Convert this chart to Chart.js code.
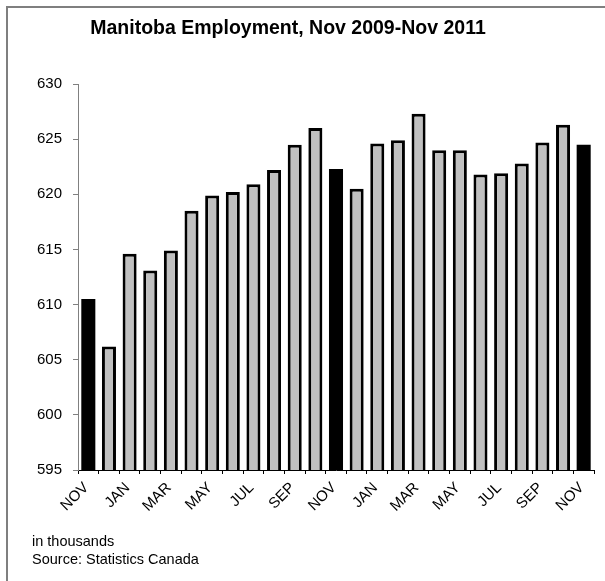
<!DOCTYPE html>
<html>
<head>
<meta charset="utf-8">
<script src="https://cdn.jsdelivr.net/npm/chart.js@4"></script>
<style>
  body { margin: 0; background: #fff; }
  canvas { display: block; }
</style>
</head>
<body>
<canvas id="chart" width="605" height="581"></canvas>
<script>
// Monthly employment, Nov 2009 to Nov 2011 (thousands)
const months = [
  "NOV", "DEC", "JAN", "FEB", "MAR", "APR", "MAY", "JUN", "JUL", "AUG", "SEP", "OCT",
  "NOV", "DEC", "JAN", "FEB", "MAR", "APR", "MAY", "JUN", "JUL", "AUG", "SEP", "OCT",
  "NOV"
];
const employment = [
  610.5, 606.2, 614.6, 613.1, 614.9, 618.5, 619.9, 620.2, 620.9, 622.2, 624.5, 626.0,
  622.3, 620.5, 624.6, 624.9, 627.3, 624.0, 624.0, 621.8, 621.9, 622.8, 624.7, 626.3,
  624.5
];
const yTicks = [595, 600, 605, 610, 615, 620, 625, 630];

const title = "Manitoba Employment, Nov 2009-Nov 2011";
const notes = ["in thousands", "Source: Statistics Canada"];

const FONT = "'Liberation Sans', Arial, sans-serif";

// November bars are solid black, the rest gray with a black outline
const isNov = months.map(m => m === "NOV");
const fills = isNov.map(n => (n ? "#000000" : "#c0c0c0"));
const borders = isNov.map(n => (n ? 0 : 3));

const frameAndText = {
  id: "frameAndText",
  afterDraw(chart) {
    const ctx = chart.ctx;
    ctx.save();
    // frame (top and left only)
    ctx.strokeStyle = "#7f7f7f";
    ctx.lineWidth = 2;
    ctx.beginPath();
    ctx.moveTo(7, 581);
    ctx.lineTo(7, 7);
    ctx.lineTo(605, 7);
    ctx.stroke();

    ctx.fillStyle = "#000";
    ctx.font = "bold 19.5px " + FONT;
    ctx.textAlign = "center";
    ctx.textBaseline = "middle";
    ctx.fillText(title, 288, 29);

    ctx.font = "14.5px " + FONT;
    ctx.textAlign = "left";
    ctx.textBaseline = "alphabetic";
    ctx.fillText(notes[0], 32, 546);
    ctx.fillText(notes[1], 32, 564);
    ctx.restore();
  }
};

new Chart(document.getElementById("chart"), {
  type: "bar",
  data: {
    labels: months,
    datasets: [{
      data: employment,
      backgroundColor: fills,
      borderColor: "#000",
      borderWidth: borders,
      barPercentage: 0.68,
      categoryPercentage: 1.0
    }]
  },
  options: {
    responsive: false,
    animation: false,
    layout: { padding: { top: 84, right: 11, bottom: 0, left: 0 } },
    plugins: {
      legend: { display: false },
      tooltip: { enabled: false }
    },
    scales: {
      x: {
        afterFit: s => { s.height = 111; },
        border: { color: "#000", width: 1 },
        grid: { offset: true, drawOnChartArea: false, color: "#000", tickLength: 4 },
        ticks: {
          autoSkip: false,
          maxRotation: 45,
          minRotation: 45,
          padding: 5,
          labelOffset: -2,
          color: "#000",
          font: { family: FONT, size: 15 },
          callback: (v, i) => (i % 2 === 0 ? months[i] : "")
        }
      },
      y: {
        min: yTicks[0],
        max: yTicks[yTicks.length - 1],
        afterFit: s => { s.width = 78; },
        afterBuildTicks: s => { s.ticks = yTicks.map(v => ({ value: v })); },
        border: { color: "#808080", width: 1 },
        grid: { drawOnChartArea: false, color: "#808080", tickLength: 5 },
        ticks: {
          padding: 11,
          color: "#000",
          font: { family: FONT, size: 15 }
        }
      }
    }
  },
  plugins: [frameAndText]
});
</script>
</body>
</html>
